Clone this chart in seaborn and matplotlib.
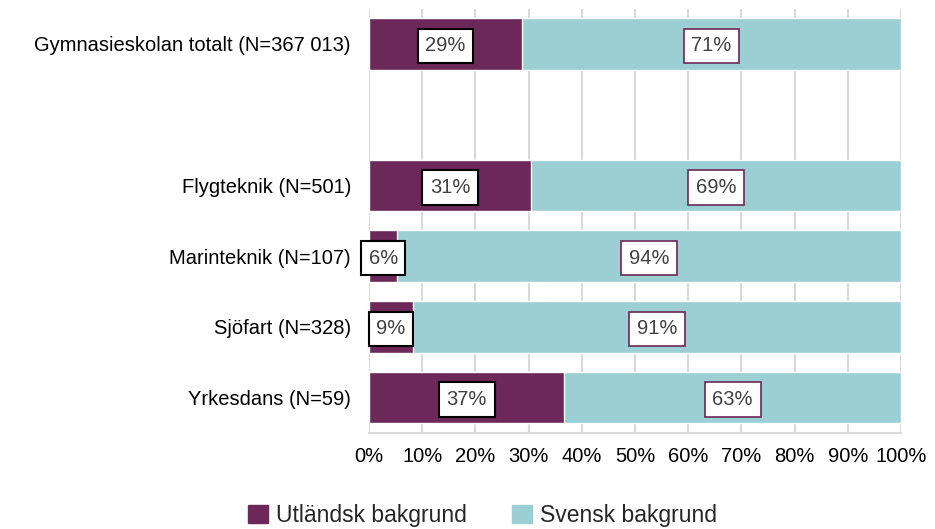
import pandas as pd
import matplotlib.pyplot as plt
import matplotlib.patches as mpatches
import seaborn as sns

# ===================== data =====================
categories = ["Gymnasieskolan totalt (N=367 013)", "Flygteknik (N=501)",
              "Marinteknik (N=107)", "Sjöfart (N=328)", "Yrkesdans (N=59)"]
utlandsk = [28.7, 30.5, 5.3, 8.2, 36.7]
svensk = [71.3, 69.5, 94.7, 91.8, 63.3]
utl_labels = ["29%", "31%", "6%", "9%", "37%"]
sv_labels = ["71%", "69%", "94%", "91%", "63%"]
series_names = ["Utländsk bakgrund", "Svensk bakgrund"]
x_ticks = [0, 10, 20, 30, 40, 50, 60, 70, 80, 90, 100]

PURPLE = "#6B2858"
TEAL = "#9BCFD3"
GRID = "#D9D9D9"
FS = 14.5

sns.set_style("white")
plt.rcParams['font.family'] = ['Liberation Sans', 'DejaVu Sans']

# blank row between total and the programmes
order = [categories[0], ""] + categories[1:]
df = pd.DataFrame({"cat": categories, "utl": utlandsk, "sv": svensk})
df["total"] = df["utl"] + df["sv"]

fig = plt.figure(figsize=(9.35, 5.29), dpi=100)
ax = fig.add_axes([0.3947, 0.1815, 0.5690, 0.8022])

# teal = full bar, purple drawn on top from 0
sns.barplot(data=df, y="cat", x="total", order=order, color=TEAL,
            width=0.73, ax=ax, saturation=1, zorder=2)
sns.barplot(data=df, y="cat", x="utl", order=order, color=PURPLE,
            width=0.73, ax=ax, saturation=1, zorder=3)

# value labels in boxes
for cat, u, s, lu, ls in zip(categories, utlandsk, svensk, utl_labels, sv_labels):
    yi = order.index(cat)
    ax.text(u / 2, yi, lu, ha='center', va='center_baseline', fontsize=FS, color='#404040', zorder=5,
            bbox=dict(boxstyle='square,pad=0.38', fc='white', ec='black', lw=1.5))
    ax.text(u + s / 2, yi, ls, ha='center', va='center_baseline', fontsize=FS, color='#404040', zorder=5,
            bbox=dict(boxstyle='square,pad=0.38', fc='white', ec=PURPLE, lw=1.2))

ax.set_xlim(0, 100)
ax.set_ylim(len(order) - 0.5, -0.5)
ax.set_xticks(x_ticks)
ax.set_xticklabels([f"{t}%" for t in x_ticks])
ax.set_xlabel("")
ax.set_ylabel("")
ax.xaxis.grid(True, color=GRID, lw=1.5, zorder=0)
ax.set_axisbelow(True)
for sp in ['top', 'right', 'left']:
    ax.spines[sp].set_visible(False)
ax.spines['bottom'].set_color(GRID)
ax.spines['bottom'].set_linewidth(1.5)
ax.tick_params(axis='x', length=5, width=1.5, color=GRID, labelsize=FS, pad=5, labelcolor='black')
ax.tick_params(axis='y', length=0, labelsize=FS, pad=13, labelcolor='black')

handles = [mpatches.Patch(color=PURPLE, label=series_names[0]),
           mpatches.Patch(color=TEAL, label=series_names[1])]
fig.legend(handles=handles, loc='center', bbox_to_anchor=(0.516, 0.026), ncol=2,
           frameon=False, fontsize=16.5, handlelength=0.85, handleheight=0.85,
           handletextpad=0.35, columnspacing=2.0, borderpad=0)

plt.savefig("out.png", dpi=100)
plt.close()
